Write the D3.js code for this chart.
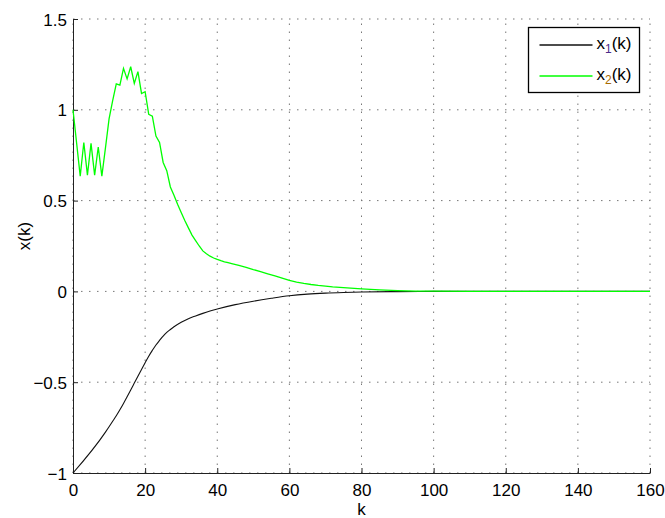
<!DOCTYPE html>
<html lang="en">
<head>
  <meta charset="UTF-8">
  <title>x(k)</title>
  <script src="https://d3js.org/d3.v7.min.js"></script>
  <style>
    body { margin: 0; background: #fff; }
    text { font-family: "Liberation Sans", Arial, sans-serif; }
    .grid line { stroke: #777; stroke-dasharray: 1.5, 6.5; }
  </style>
</head>
<body>
  <svg id="chart"></svg>
  <script>
    // k and value samples
    const x1K = [0, 9, 10, 11, 12, 13, 14, 15, 16, 17, 18, 19, 20, 21, 22, 23, 24, 25, 26, 27, 28, 30, 32, 34, 36, 38, 40, 45, 50, 55, 60, 65, 70, 75, 80, 90, 100, 160];
    const x1Vals = [-1, -0.775, -0.745, -0.715, -0.685, -0.652, -0.617, -0.58, -0.543, -0.505, -0.467, -0.43, -0.393, -0.357, -0.325, -0.295, -0.27, -0.246, -0.226, -0.21, -0.195, -0.17, -0.15, -0.135, -0.121, -0.108, -0.097, -0.073, -0.054, -0.038, -0.024, -0.015, -0.0095, -0.006, -0.0035, -0.0012, 0, 0];

    const x2K = [0, 2, 3, 4, 5, 6, 7, 8, 9, 10, 11, 12, 13, 14, 15, 16, 17, 18, 19, 20, 21, 22, 23, 24, 25, 26, 27, 28, 29, 30, 31, 32, 33, 34, 35, 36, 37, 38, 39, 40, 41, 42, 43, 44, 46, 48, 50, 52, 54, 56, 58, 60, 62, 64, 66, 68, 72, 76, 80, 85, 90, 95, 100, 110, 160];
    const x2Vals = [1.0, 0.635, 0.82, 0.64, 0.815, 0.64, 0.795, 0.635, 0.79, 0.95, 1.05, 1.143, 1.136, 1.228, 1.17, 1.237, 1.145, 1.21, 1.09, 1.1, 0.975, 0.965, 0.855, 0.82, 0.71, 0.665, 0.575, 0.53, 0.48, 0.435, 0.39, 0.35, 0.31, 0.28, 0.25, 0.223, 0.207, 0.194, 0.184, 0.176, 0.169, 0.163, 0.158, 0.153, 0.143, 0.132, 0.12, 0.109, 0.097, 0.085, 0.073, 0.061, 0.051, 0.044, 0.038, 0.033, 0.025, 0.019, 0.014, 0.008, 0.004, 0.002, 0.001, 0, 0];

    const xTicks = [0, 20, 40, 60, 80, 100, 120, 140, 160];
    const yTicks = [-1, -0.5, 0, 0.5, 1, 1.5];

    const width = 665, height = 518;
    const margin = { top: 19, right: 15, bottom: 45, left: 73 };
    const w = width - margin.left - margin.right;
    const h = height - margin.top - margin.bottom;

    const svg = d3.select("#chart")
      .attr("width", width)
      .attr("height", height);

    svg.append("rect").attr("width", width).attr("height", height).attr("fill", "#fff");

    const g = svg.append("g")
      .attr("transform", "translate(" + margin.left + "," + margin.top + ")");

    const x = d3.scaleLinear().domain([0, 160]).range([0, w]);
    const y = d3.scaleLinear().domain([-1, 1.5]).range([h, 0]);

    // dotted grid, edges included (they stand in for the top/right box)
    g.append("g").attr("class", "grid")
      .selectAll("line").data(xTicks).join("line")
      .attr("x1", d => x(d)).attr("x2", d => x(d))
      .attr("y1", h).attr("y2", 0);
    g.append("g").attr("class", "grid")
      .selectAll("line").data(yTicks).join("line")
      .attr("x1", 0).attr("x2", w)
      .attr("y1", d => y(d)).attr("y2", d => y(d));

    const fmt = d3.format("~g");

    const xAxis = g.append("g")
      .attr("transform", "translate(0," + h + ")")
      .call(d3.axisBottom(x).tickValues(xTicks).tickFormat(fmt).tickSizeInner(-5).tickSizeOuter(0).tickPadding(11));
    const yAxis = g.append("g")
      .call(d3.axisLeft(y).tickValues(yTicks).tickFormat(fmt).tickSizeInner(-5).tickSizeOuter(0).tickPadding(6));

    [xAxis, yAxis].forEach(a => {
      a.selectAll("path, line").attr("stroke", "#222");
      a.selectAll("text").attr("font-size", "17px").attr("fill", "#000")
        .attr("font-family", "'Liberation Sans', Arial, sans-serif");
    });
    yAxis.selectAll("text").attr("dy", "0.36em");

    // axis titles
    svg.append("text")
      .attr("x", margin.left + w / 2)
      .attr("y", 515)
      .attr("text-anchor", "middle")
      .attr("font-size", "17px")
      .text("k");
    svg.append("text")
      .attr("transform", "translate(30," + 236 + ") rotate(-90)")
      .attr("text-anchor", "middle")
      .attr("font-size", "17px")
      .text("x(k)");

    // lines
    const x1Data = x1K.map((k, i) => ({ k: k, v: x1Vals[i] }));
    const x2Data = x2K.map((k, i) => ({ k: k, v: x2Vals[i] }));

    g.append("path")
      .datum(x1Data)
      .attr("fill", "none")
      .attr("stroke", "#111")
      .attr("stroke-width", 1.1)
      .attr("d", d3.line().x(d => x(d.k)).y(d => y(d.v)).curve(d3.curveMonotoneX));

    g.append("path")
      .datum(x2Data)
      .attr("fill", "none")
      .attr("stroke", "#00ff00")
      .attr("stroke-width", 1.3)
      .attr("d", d3.line().x(d => x(d.k)).y(d => y(d.v)));

    // legend
    const legend = svg.append("g").attr("transform", "translate(528.5,27.5)");
    legend.append("rect")
      .attr("width", 111).attr("height", 65)
      .attr("fill", "#fff").attr("stroke", "#000").attr("stroke-width", 1.3);

    const entries = [
      { sub: "1", color: "#111", subColor: "#4b2a8a" },
      { sub: "2", color: "#00ff00", subColor: "#a86a00" }
    ];
    entries.forEach((e, i) => {
      const yy = 17.5 + i * 31;
      legend.append("line")
        .attr("x1", 11).attr("x2", 64).attr("y1", yy).attr("y2", yy)
        .attr("stroke", e.color).attr("stroke-width", 1.3);
      const t = legend.append("text")
        .attr("x", 68).attr("y", yy + 4)
        .attr("font-size", "17px").attr("fill", "#000");
      t.append("tspan").text("x");
      t.append("tspan").attr("font-size", "12px").attr("dy", 4).attr("fill", e.subColor).text(e.sub);
      t.append("tspan").attr("dy", -4).text("(k)");
    });
  </script>
</body>
</html>
